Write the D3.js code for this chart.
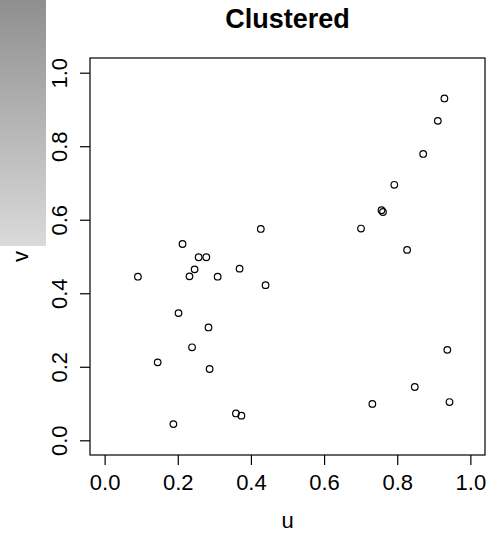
<!DOCTYPE html>
<html>
<head>
<meta charset="utf-8">
<script src="https://cdn.jsdelivr.net/npm/d3@7"></script>
<style>
  body { margin: 0; background: #fff; }
  svg { display: block; font-family: "Liberation Sans", Arial, sans-serif; }
</style>
</head>
<body>
<div id="chart"></div>
<script>
// points
var u = [0.929, 0.911, 0.871, 0.792, 0.757, 0.761, 0.701, 0.827, 0.937, 0.848, 0.943, 0.732,
         0.213, 0.257, 0.278, 0.246, 0.232, 0.309, 0.091, 0.369, 0.202, 0.284, 0.239, 0.145,
         0.287, 0.188, 0.359, 0.374, 0.427, 0.440];
var v = [0.930, 0.869, 0.779, 0.695, 0.626, 0.621, 0.576, 0.518, 0.246, 0.145, 0.104, 0.099,
         0.534, 0.498, 0.498, 0.465, 0.446, 0.445, 0.445, 0.467, 0.346, 0.307, 0.253, 0.212,
         0.194, 0.044, 0.073, 0.067, 0.575, 0.422];
var ticks = [0, 0.2, 0.4, 0.6, 0.8, 1.0];

var width = 491, height = 535;
var box = {left: 90, right: 485, top: 58, bottom: 455};

var svg = d3.select("#chart").append("svg")
    .attr("width", width)
    .attr("height", height);

// grey gradient block top-left
var grad = svg.append("defs").append("linearGradient")
    .attr("id", "grey").attr("x1", 0).attr("y1", 0).attr("x2", 0).attr("y2", 1);
grad.append("stop").attr("offset", "0%").attr("stop-color", "#8f8f8f");
grad.append("stop").attr("offset", "100%").attr("stop-color", "#dadada");
svg.append("rect")
    .attr("x", 0).attr("y", 0).attr("width", 46).attr("height", 246)
    .attr("fill", "url(#grey)");

// R style 4% padding around [0,1]
var x = d3.scaleLinear().domain([-0.04, 1.04]).range([box.left, box.right]);
var y = d3.scaleLinear().domain([-0.04, 1.04]).range([box.bottom, box.top]);

var fmt = d3.format(".1f");

var xAxis = svg.append("g")
    .attr("transform", "translate(0," + box.bottom + ")")
    .call(d3.axisBottom(x).tickValues(ticks).tickSize(10).tickPadding(10).tickFormat(fmt));
xAxis.select(".domain").remove();
xAxis.selectAll("line").attr("stroke", "#000").attr("stroke-width", 1.2);
xAxis.selectAll("text").attr("font-size", 22).attr("fill", "#000")
    .attr("dy", null).attr("y", 35);

var yAxis = svg.append("g")
    .attr("transform", "translate(" + box.left + ",0)")
    .call(d3.axisLeft(y).tickValues(ticks).tickSize(10).tickFormat(fmt));
yAxis.select(".domain").remove();
yAxis.selectAll("line").attr("stroke", "#000").attr("stroke-width", 1.2);
yAxis.selectAll("text")
    .attr("font-size", 22).attr("fill", "#000")
    .attr("x", null).attr("dy", null)
    .attr("text-anchor", "middle")
    .attr("transform", "translate(-23,0) rotate(-90)");

svg.append("rect")
    .attr("x", box.left).attr("y", box.top)
    .attr("width", box.right - box.left).attr("height", box.bottom - box.top)
    .attr("fill", "none").attr("stroke", "#000").attr("stroke-width", 1.2);

svg.selectAll(".dot")
    .data(u.map(function(d, i) { return [d, v[i]]; }))
    .enter().append("circle")
    .attr("class", "dot")
    .attr("cx", function(d) { return x(d[0]); })
    .attr("cy", function(d) { return y(d[1]); })
    .attr("r", 3.3)
    .attr("fill", "none")
    .attr("stroke", "#000")
    .attr("stroke-width", 1.2);

svg.append("text")
    .attr("x", (box.left + box.right) / 2).attr("y", 28)
    .attr("text-anchor", "middle")
    .attr("font-size", 27).attr("font-weight", "bold")
    .text("Clustered");

svg.append("text")
    .attr("x", (box.left + box.right) / 2).attr("y", 528)
    .attr("text-anchor", "middle")
    .attr("font-size", 22)
    .text("u");

svg.append("text")
    .attr("transform", "translate(28," + (box.top + box.bottom) / 2 + ") rotate(-90)")
    .attr("text-anchor", "middle")
    .attr("font-size", 22)
    .text("v");
</script>
</body>
</html>
